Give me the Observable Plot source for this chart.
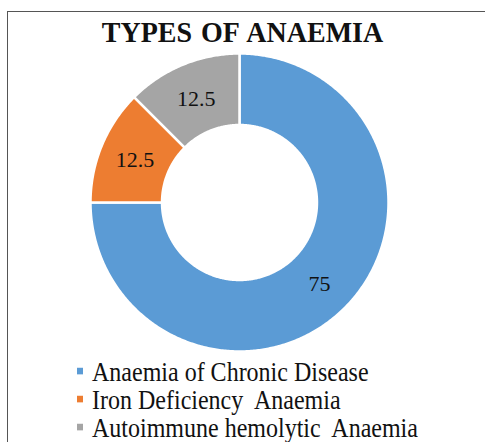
<!DOCTYPE html>
<html>
<head>
<meta charset="utf-8">
<script src="https://cdn.jsdelivr.net/npm/d3@7"></script>
<script src="https://cdn.jsdelivr.net/npm/@observablehq/plot@0.6"></script>
<style>
  html, body { margin: 0; padding: 0; background: #fff; }
  #wrap { position: relative; width: 485px; height: 442px; overflow: hidden; font-family: "Liberation Serif", Tinos, "Times New Roman", serif; color: #111; }
  #frame { position: absolute; left: 7px; top: 11px; width: 500px; height: 460px; border-left: 1.5px solid #555; border-top: 1.5px solid #555; }
  #title { position: absolute; left: 0; width: 485px; top: 17px; text-align: center; font-size: 28px; font-weight: bold; line-height: 32px; word-spacing: 2px; transform: scaleY(1.08); transform-origin: 50% 75%; }
  #chart { position: absolute; left: 0; top: 42px; }
  .leg { position: absolute; left: 77px; height: 28px; line-height: 28px; font-size: 24px; white-space: pre; transform: scaleY(1.1); transform-origin: 0 80%; }
  .sw { position: absolute; left: 0; top: 10px; width: 6px; height: 6px; }
  .lt { position: absolute; left: 15px; top: 0; font-family: "Liberation Serif", Tinos, serif; }
  #chart svg, #chart text { font-family: "Liberation Serif", Tinos, serif !important; }
</style>
</head>
<body>
<div id="wrap">
  <div id="frame"></div>
  <div id="title">TYPES OF ANAEMIA</div>
  <div id="chart"></div>
  <div id="legend"></div>
</div>
<script>
const categories = ["Anaemia of Chronic Disease", "Iron Deficiency  Anaemia", "Autoimmune hemolytic  Anaemia"];
const values = [75, 12.5, 12.5];
const labels = ["75", "12.5", "12.5"];
const colors = ["#5B9BD5", "#ED7D31", "#A5A5A5"];

const innerFrac = 0.52;
// clockwise from 12 o'clock
const pie = d3.pie().sort(null).value(d => d)(values);

const polyPts = [];
const labelPts = [];
pie.forEach((p, i) => {
  const a0 = p.startAngle, a1 = p.endAngle;
  const n = Math.max(8, Math.ceil((a1 - a0) / 0.01));
  for (let k = 0; k <= n; k++) {
    const a = a0 + (a1 - a0) * k / n;
    polyPts.push({cat: categories[i], x: Math.sin(a), y: Math.cos(a)});
  }
  for (let k = n; k >= 0; k--) {
    const a = a0 + (a1 - a0) * k / n;
    polyPts.push({cat: categories[i], x: innerFrac * Math.sin(a), y: innerFrac * Math.cos(a)});
  }
  const am = (a0 + a1) / 2, rm = (1 + innerFrac) / 2;
  labelPts.push({cat: categories[i], label: labels[i], x: rm * Math.sin(am), y: rm * Math.cos(am)});
});

const serif = "'Liberation Serif', Tinos, serif";
const chart = Plot.plot({
  width: 485,
  height: 320,
  marginLeft: 90,
  marginRight: 97,
  marginTop: 11,
  marginBottom: 11,
  x: {domain: [-1, 1], axis: null},
  y: {domain: [-1, 1], axis: null},
  color: {domain: categories, range: colors},
  style: {background: "transparent", fontFamily: serif},
  marks: [
    Plot.line(polyPts, {x: "x", y: "y", z: "cat", fill: "cat", stroke: "white", strokeWidth: 2.5, curve: "linear-closed"}),
    Plot.text(labelPts, {x: "x", y: "y", text: "label", fontSize: 22, fontFamily: serif, fill: "#111", dy: 1})
  ]
});
document.getElementById("chart").appendChild(chart);

const legend = document.getElementById("legend");
const legTops = [359, 387, 415];
categories.forEach((c, i) => {
  const row = document.createElement("div");
  row.className = "leg";
  row.style.top = legTops[i] + "px";
  const sw = document.createElement("div");
  sw.className = "sw";
  sw.style.background = colors[i];
  const t = document.createElement("span");
  t.className = "lt";
  t.textContent = c;
  row.appendChild(sw);
  row.appendChild(t);
  legend.appendChild(row);
});
</script>
</body>
</html>
